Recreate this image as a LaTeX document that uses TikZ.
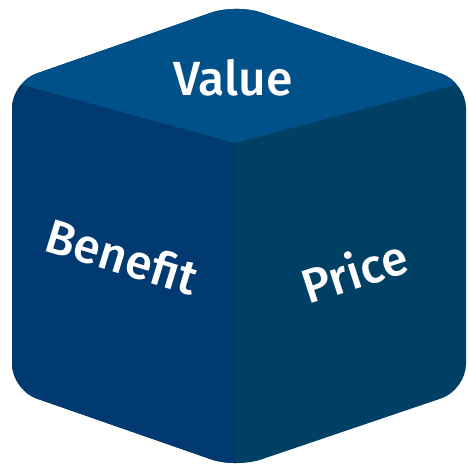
\documentclass[tikz,border=0pt]{standalone}
\usepackage{fontspec}
\setmainfont{Fira Sans}[UprightFont=* Medium]
\definecolor{topblue}{HTML}{00508A}
\definecolor{leftblue}{HTML}{003A70}
\definecolor{rightblue}{HTML}{004064}
\tikzset{facetext/.style={text=white,inner sep=0pt,font=\fontsize{48}{48}\selectfont}}

\begin{document}
\begin{tikzpicture}[x=1pt,y=-1pt]
  \useasboundingbox (0,0) rectangle (468,468);
  \coordinate (apex) at (236,4);
  \coordinate (ul) at (12,82);
  \coordinate (ll) at (12,390);
  \coordinate (base) at (236,468);
  \coordinate (lr) at (466,390);
  \coordinate (ur) at (466,82);
  \coordinate (mid) at (235,143);
  \begin{scope}
    \clip[rounded corners=26pt] (apex) -- (ur) -- (lr) -- (base) -- (ll) -- (ul) -- cycle;
    % right face first as the ground, so no seam shows
    \fill[rightblue] (0,0) rectangle (468,468);
    \fill[leftblue] (ul) -- (mid) -- (base) -- (ll) -- cycle;
    \fill[topblue] (apex) -- (ur) -- (mid) -- (ul) -- cycle;
  \end{scope}
  \node[facetext] (value) at (233,78) {Value};
  \node[facetext,rotate=-17] (benefit) at (122,256) {Benefit};
  \node[facetext,rotate=18] (price) at (354,270) {Price};
\end{tikzpicture}
\end{document}
